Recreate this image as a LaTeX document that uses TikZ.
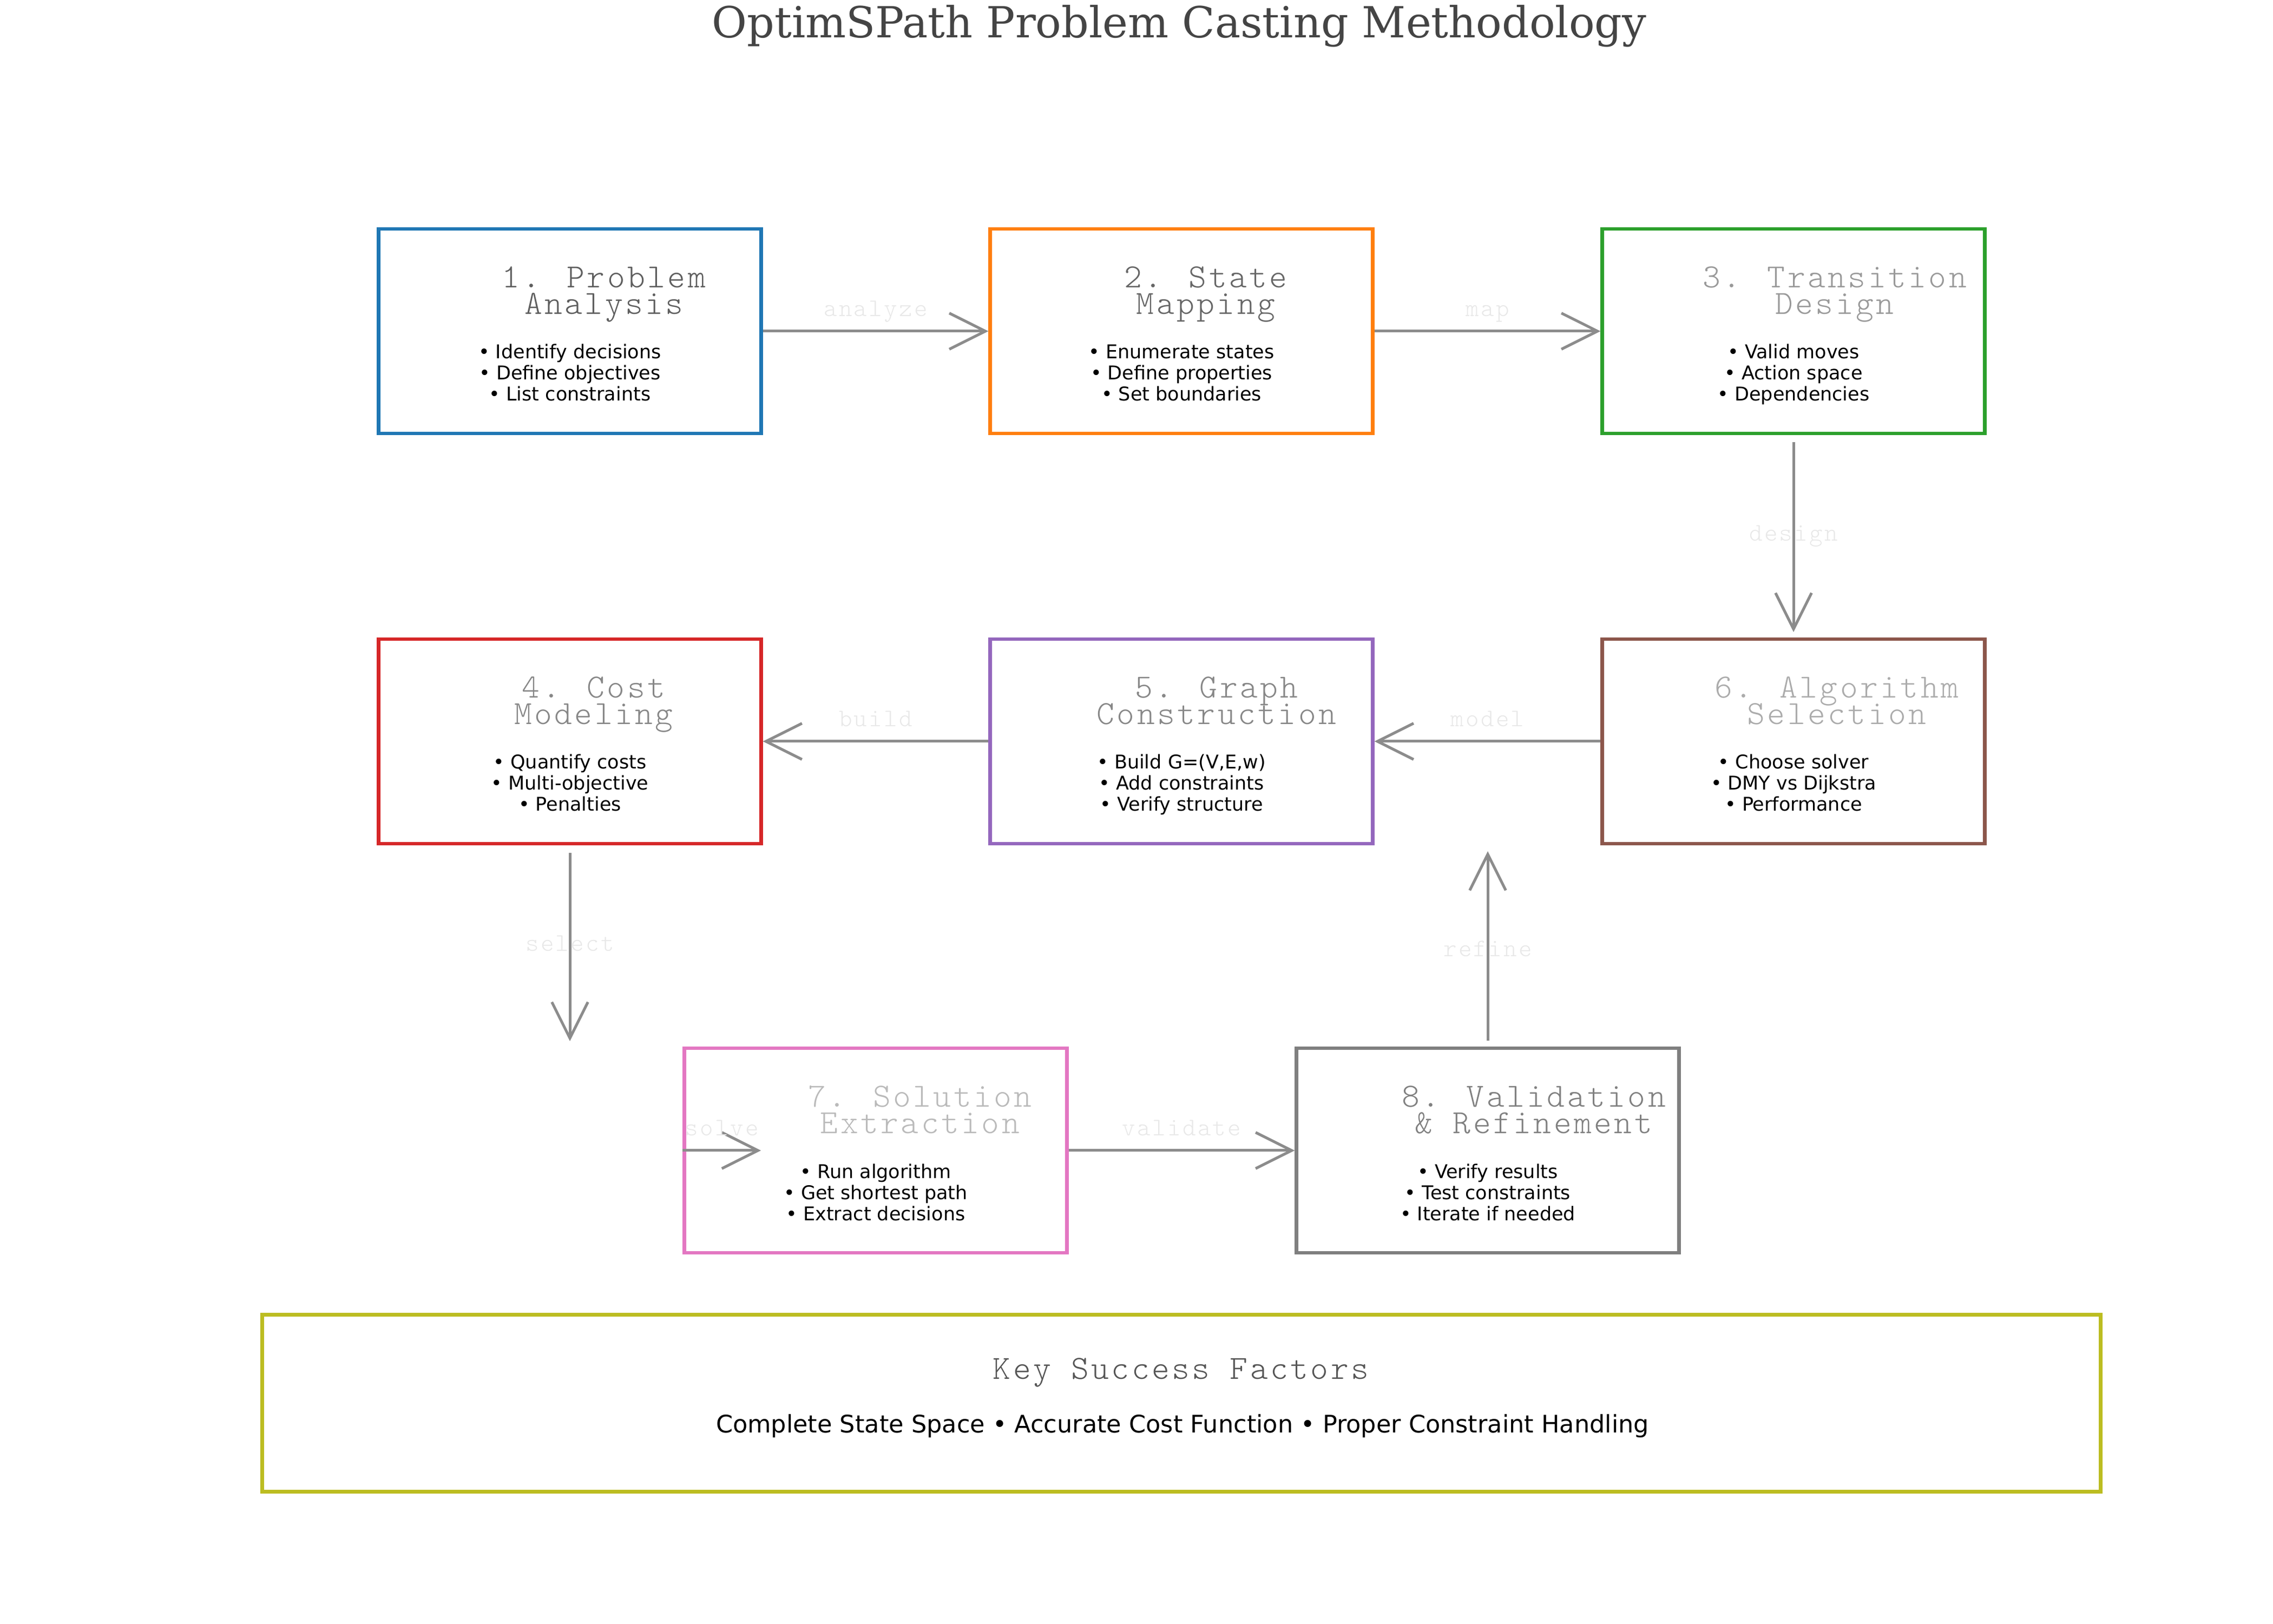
\documentclass[tikz,border=0pt]{standalone}
\usepackage{fontspec}
\setmainfont{DejaVu Sans}
\newfontfamily\headfont{DejaVu Serif}
\newfontfamily\monofont[LetterSpace=7.1]{lmmonolt10-regular.otf}
\usetikzlibrary{arrows.meta}
\setlength{\lineskiplimit}{-100pt}
\definecolor{stepblue}{HTML}{1F77B4}
\definecolor{steporange}{HTML}{FF7F0E}
\definecolor{stepgreen}{HTML}{2CA02C}
\definecolor{stepred}{HTML}{D62728}
\definecolor{steppurple}{HTML}{9467BD}
\definecolor{stepbrown}{HTML}{8C564B}
\definecolor{steppink}{HTML}{E377C2}
\definecolor{stepgray}{HTML}{7F7F7F}
\definecolor{stepolive}{HTML}{BCBD22}
\definecolor{flowgray}{HTML}{8C8C8C}
\definecolor{lblgray}{HTML}{E8E8E8}
\definecolor{titlegray}{HTML}{444444}
\definecolor{keygray}{HTML}{555555}
\tikzset{
  stepbox/.style={draw=#1, line width=1.5pt, minimum width=169.7pt, minimum height=90.7pt, inner sep=0pt},
  steptitle/.style={text=#1, font=\monofont\fontsize{15}{11.9}\selectfont, align=center, anchor=base, inner sep=0pt},
  stepitems/.style={font=\fontsize{8.4}{9.36}\selectfont, align=center, anchor=base, inner sep=0pt},
  flow/.style={draw=flowgray, line width=1.2pt, -{Straight Barb[length=16pt,width=16pt]}},
  flowlbl/.style={text=lblgray, font=\monofont\fontsize{11.2}{12}\selectfont, inner sep=0pt}
}
\begin{document}
\begin{tikzpicture}[x=24pt, y=24pt]
    \useasboundingbox (0,0) rectangle (42,30);
    \node[anchor=base, text=titlegray, font=\headfont\fontsize{19}{22}\selectfont] (title) at (21.79,29.30) {OptimSPath Problem Casting Methodology};
    % first row
    \node[stepbox=stepblue] (b1) at (10.53,23.88) {};
    \node[steptitle=black!63] (t1) at (11.16,24.19) {1. Problem\\Analysis};
    \node[stepitems] (i1) at (10.53,22.59) {• Identify decisions\\• Define objectives\\• List constraints};
    \node[stepbox=steporange] (b2) at (21.83,23.88) {};
    \node[steptitle=black!60] (t2) at (22.28,24.19) {2. State\\Mapping};
    \node[stepitems] (i2) at (21.83,22.59) {• Enumerate states\\• Define properties\\• Set boundaries};
    \node[stepbox=stepgreen] (b3) at (33.14,23.88) {};
    \node[steptitle=black!40] (t3) at (33.90,24.19) {3. Transition\\Design};
    \node[stepitems] (i3) at (33.14,22.59) {• Valid moves\\• Action space\\• Dependencies};
    % second row
    \node[stepbox=stepred] (b4) at (10.53,16.30) {};
    \node[steptitle=black!47] (t4) at (10.97,16.61) {4. Cost\\Modeling};
    \node[stepitems] (i4) at (10.53,15.01) {• Quantify costs\\• Multi-objective\\• Penalties};
    \node[stepbox=steppurple] (b5) at (21.83,16.30) {};
    \node[steptitle=black!47] (t5) at (22.48,16.61) {5. Graph\\Construction};
    \node[stepitems] (i5) at (21.83,15.01) {• Build G=(V,E,w)\\• Add constraints\\• Verify structure};
    \node[stepbox=stepbrown] (b6) at (33.14,16.30) {};
    \node[steptitle=black!33] (t6) at (33.94,16.61) {6. Algorithm\\Selection};
    \node[stepitems] (i6) at (33.14,15.01) {• Choose solver\\• DMY vs Dijkstra\\• Performance};
    % third row
    \node[stepbox=steppink] (b7) at (16.18,8.74) {};
    \node[steptitle=black!27] (t7) at (17.00,9.05) {7. Solution\\Extraction};
    \node[stepitems] (i7) at (16.18,7.45) {• Run algorithm\\• Get shortest path\\• Extract decisions};
    \node[stepbox=stepgray] (b8) at (27.49,8.74) {};
    \node[steptitle=black!50] (t8) at (28.34,9.05) {8. Validation\\\& Refinement};
    \node[stepitems] (i8) at (27.49,7.45) {• Verify results\\• Test constraints\\• Iterate if needed};
    % flow
    \draw[flow] (b1.east) -- (b2.west) node[flowlbl, midway, anchor=base, yshift=6.5pt] (lanalyze) {analyze};
    \draw[flow] (b2.east) -- (b3.west) node[flowlbl, midway, anchor=base, yshift=6.5pt] (lmap) {map};
    \draw[flow, shorten <=3pt, shorten >=2.4pt] (b3.south) -- (b6.north) node[flowlbl, midway] (ldesign) {design};
    \draw[flow] (b6.west) -- (b5.east) node[flowlbl, midway, anchor=base, yshift=6.5pt] (lmodel) {model};
    \draw[flow] (b5.west) -- (b4.east) node[flowlbl, midway, anchor=base, yshift=6.5pt] (lbuild) {build};
    \coordinate (selend) at (10.53,10.76);
    \draw[flow, shorten <=3.3pt] (b4.south) -- (selend) node[flowlbl, midway] (lselect) {select};
    \coordinate (solveend) at (14.06,8.74);
    \draw[flow] (b7.west) -- (solveend) node[flowlbl, midway, anchor=base, yshift=6.5pt] (lsolve) {solve};
    \draw[flow] (b7.east) -- (b8.west) node[flowlbl, midway, anchor=base, yshift=6.5pt] (lvalidate) {validate};
    \coordinate (refend) at (27.49,14.27);
    \draw[flow, shorten <=2.6pt] (b8.north) -- (refend) node[flowlbl, midway] (lrefine) {refine};
    % key factors
    \node[draw=stepolive, line width=1.5pt, minimum width=815.3pt, minimum height=78.5pt, inner sep=0pt] (kbox) at (21.83,4.07) {};
    \node[anchor=base, text=keygray, font=\monofont\fontsize{15}{18}\selectfont, inner sep=0pt] (ktitle) at (21.82,4.52) {Key Success Factors};
    \node[anchor=base, font=\fontsize{10.7}{13}\selectfont, inner sep=0pt] (kline) at (21.85,3.53) {Complete State Space • Accurate Cost Function • Proper Constraint Handling};
\end{tikzpicture}
\end{document}
